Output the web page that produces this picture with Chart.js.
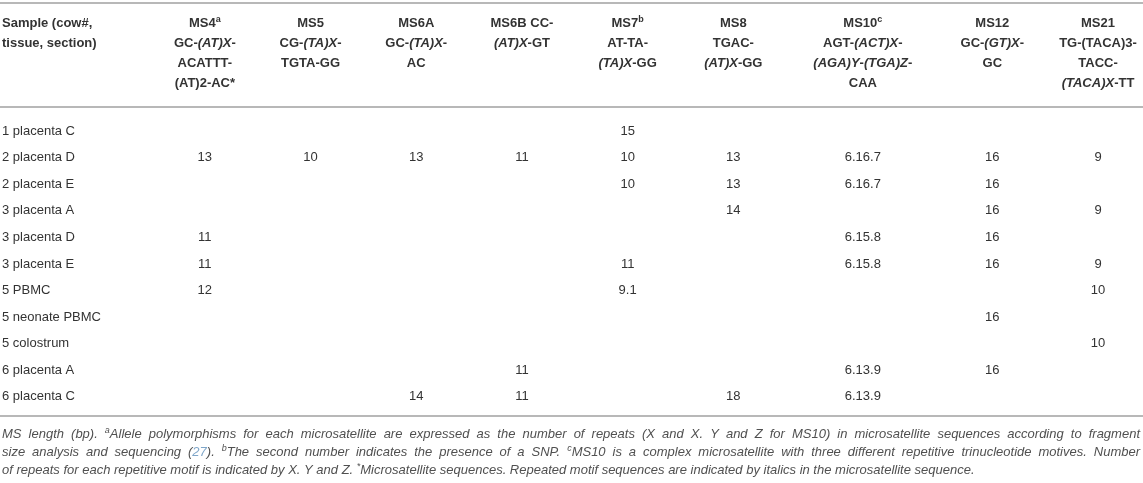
<!DOCTYPE html>
<html>
<head>
<meta charset="utf-8">
<title>MS allele table</title>
<script src="https://cdn.jsdelivr.net/npm/chart.js@4.4.1/dist/chart.umd.min.js"></script>
<style>
  html, body { margin: 0; padding: 0; background: #fff; }
  canvas { display: block; }
</style>
</head>
<body>
<canvas id="msTable" width="1143" height="483"></canvas>
<script>
// ---- data ----
// markup in texts: _italic_  ^superscript^  ~link colour~
const samples = [
    "1 placenta C",
    "2 placenta D",
    "2 placenta E",
    "3 placenta A",
    "3 placenta D",
    "3 placenta E",
    "5 PBMC",
    "5 neonate PBMC",
    "5 colostrum",
    "6 placenta A",
    "6 placenta C",
];

const sampleHeader = ["Sample (cow#,", "tissue, section)"];

const markerHeaders = [
    ["MS4^a^", "GC-_(AT)X_-", "ACATTT-", "(AT)2-AC*"],
    ["MS5", "CG-_(TA)X_-", "TGTA-GG"],
    ["MS6A", "GC-_(TA)X_-", "AC"],
    ["MS6B CC-", "_(AT)X_-GT"],
    ["MS7^b^", "AT-TA-", "_(TA)X_-GG"],
    ["MS8", "TGAC-", "_(AT)X_-GG"],
    ["MS10^c^", "AGT-_(ACT)X_-", "_(AGA)Y_-_(TGA)Z_-", "CAA"],
    ["MS12", "GC-_(GT)X_-", "GC"],
    ["MS21", "TG-(TACA)3-", "TACC-", "_(TACA)X_-TT"],
];

const ms4  = [null, "13", null, null, "11", "11", "12", null, null, null, null];
const ms5  = [null, "10", null, null, null, null, null, null, null, null, null];
const ms6a = [null, "13", null, null, null, null, null, null, null, null, "14"];
const ms6b = [null, "11", null, null, null, null, null, null, null, "11", "11"];
const ms7  = ["15", "10", "10", null, null, "11", "9.1", null, null, null, null];
const ms8  = [null, "13", "13", "14", null, null, null, null, null, null, "18"];
const ms10 = [null, "6.16.7", "6.16.7", null, "6.15.8", "6.15.8", null, null, null, "6.13.9", "6.13.9"];
const ms12 = [null, "16", "16", "16", "16", "16", null, "16", null, "16", null];
const ms21 = [null, "9", null, "9", null, "9", "10", null, "10", null, null];

const markerValues = [ms4, ms5, ms6a, ms6b, ms7, ms8, ms10, ms12, ms21];

const footnote = [
    "MS length (bp). ^a^Allele polymorphisms for each microsatellite are expressed as the number of repeats (X and X. Y and Z for MS10) in microsatellite sequences according to fragment",
    "size analysis and sequencing (~27~). ^b^The second number indicates the presence of a SNP. ^c^MS10 is a complex microsatellite with three different repetitive trinucleotide motives. Number",
    "of repeats for each repetitive motif is indicated by X. Y and Z. ^*^Microsatellite sequences. Repeated motif sequences are indicated by italics in the microsatellite sequence.",
];

// ---- layout ----
const FONT = '"Liberation Sans", Arial, Helvetica, sans-serif';
const TEXT = "#333333";
const RULE = "#b8b8b8";
const colWidths = [1, 1, 1, 1, 1, 1, 1.45, 1, 1]; // MS10 column is wider
const colCenters = [];
let acc = 0;
colWidths.forEach(function (w) { colCenters.push(acc + w / 2); acc += w; });

// ---- rich text helpers ----
function parseRich(str) {
    var out = [], mode = null, buf = "";
    for (var i = 0; i < str.length; i++) {
        var c = str[i];
        if (c === "_" || c === "^" || c === "~") {
            if (buf) out.push({ text: buf, mode: mode });
            buf = "";
            mode = mode === c ? null : c;
        } else {
            buf += c;
        }
    }
    if (buf) out.push({ text: buf, mode: mode });
    return out;
}

function segFont(seg, base) {
    var italic = base.italic || seg.mode === "_";
    var size = seg.mode === "^" ? Math.round(base.size * 0.72) : base.size;
    return (italic ? "italic " : "") + base.weight + " " + size + "px " + FONT;
}

function richWidth(ctx, segs, base) {
    var w = 0;
    segs.forEach(function (s) { ctx.font = segFont(s, base); w += ctx.measureText(s.text).width; });
    return w;
}

function drawRich(ctx, str, x, y, align, base) {
    var segs = parseRich(str);
    var w = richWidth(ctx, segs, base);
    var cx = align === "center" ? x - w / 2 : x;
    ctx.textAlign = "left";
    ctx.textBaseline = "middle";
    segs.forEach(function (s) {
        ctx.font = segFont(s, base);
        ctx.fillStyle = s.mode === "~" ? "#7fa6c9" : base.color;
        ctx.fillText(s.text, cx, s.mode === "^" ? y - base.size * 0.3 : y);
        cx += ctx.measureText(s.text).width;
    });
}

// footnote line, squeezed by sx and optionally justified to a width
function drawFootLine(ctx, str, x, y, sx, justifyTo, base) {
    var pieces = [];
    parseRich(str).forEach(function (s) {
        s.text.split(/( )/).forEach(function (t) { if (t) pieces.push({ text: t, mode: s.mode }); });
    });
    var natural = richWidth(ctx, pieces, base);
    var spaces = pieces.filter(function (p) { return p.text === " "; }).length;
    var extra = justifyTo ? (justifyTo / sx - natural) / spaces : 0;
    ctx.save();
    ctx.translate(x, y);
    ctx.scale(sx, 1);
    ctx.textAlign = "left";
    ctx.textBaseline = "middle";
    var cx = 0;
    pieces.forEach(function (p) {
        ctx.font = segFont(p, base);
        ctx.fillStyle = p.mode === "~" ? "#7fa6c9" : base.color;
        ctx.fillText(p.text, cx, p.mode === "^" ? -base.size * 0.3 : 0);
        cx += ctx.measureText(p.text).width + (p.text === " " ? extra : 0);
    });
    ctx.restore();
}

// ---- plugins ----
const cellText = {
    id: "cellText",
    afterDatasetsDraw: function (chart) {
        var ctx = chart.ctx;
        ctx.save();
        chart.data.datasets.forEach(function (ds, i) {
            chart.getDatasetMeta(i).data.forEach(function (pt, j) {
                drawRich(ctx, ds.data[j].v, pt.x, pt.y, "center",
                    { size: 13, weight: "normal", italic: false, color: TEXT });
            });
        });
        ctx.restore();
    },
};

const tableFrame = {
    id: "tableFrame",
    afterDraw: function (chart) {
        var ctx = chart.ctx, area = chart.chartArea, xs = chart.scales.x, ys = chart.scales.y;
        ctx.save();
        ctx.strokeStyle = RULE;
        ctx.lineWidth = 2;
        [3, area.top - 11, area.bottom + 6].forEach(function (y) {
            ctx.beginPath();
            ctx.moveTo(0, y);
            ctx.lineTo(chart.width, y);
            ctx.stroke();
        });

        var head = { size: 13, weight: "bold", italic: false, color: TEXT };
        var top = area.top - 95;
        sampleHeader.forEach(function (line, k) {
            drawRich(ctx, line, ys.left, top + k * 20, "left", head);
        });
        markerHeaders.forEach(function (lines, i) {
            var x = xs.getPixelForValue(colCenters[i]);
            lines.forEach(function (line, k) {
                drawRich(ctx, line, x, top + k * 20, "center", head);
            });
        });

        var foot = { size: 13, weight: "normal", italic: true, color: "#505050" };
        var target = chart.width - 5;
        var first = richWidth(ctx, parseRich(footnote[0]), foot);
        var sx = Math.min(1, (target - 6) / first);
        footnote.forEach(function (line, k) {
            drawFootLine(ctx, line, 2, area.bottom + 24 + k * 18, sx,
                k < footnote.length - 1 ? target : 0, foot);
        });
        ctx.restore();
    },
};

// ---- chart ----
const datasets = markerValues.map(function (vals, i) {
    var pts = [];
    vals.forEach(function (v, j) {
        if (v !== null) pts.push({ x: colCenters[i], y: samples[j], v: v });
    });
    return { label: markerHeaders[i][0], data: pts, pointRadius: 0, pointHoverRadius: 0 };
});

const ctx = document.getElementById("msTable");

new Chart(ctx, {
    type: "scatter",
    data: { datasets: datasets },
    options: {
        responsive: false,
        animation: false,
        events: [],
        layout: {
            padding: { top: 118, bottom: 73, left: 2, right: 0 },
        },
        plugins: {
            legend: { display: false },
            tooltip: { enabled: false },
        },
        scales: {
            x: {
                type: "linear",
                min: 0,
                max: (1143 - 152) / 105.7,
                display: false,
            },
            y: {
                type: "category",
                labels: samples,
                offset: true,
                grid: { display: false },
                border: { display: false },
                afterFit: function (scale) { scale.width = 150; },
                ticks: {
                    crossAlign: "far",
                    padding: 0,
                    color: TEXT,
                    font: { family: FONT, size: 13 },
                },
            },
        },
    },
    plugins: [cellText, tableFrame],
});
</script>
</body>
</html>
